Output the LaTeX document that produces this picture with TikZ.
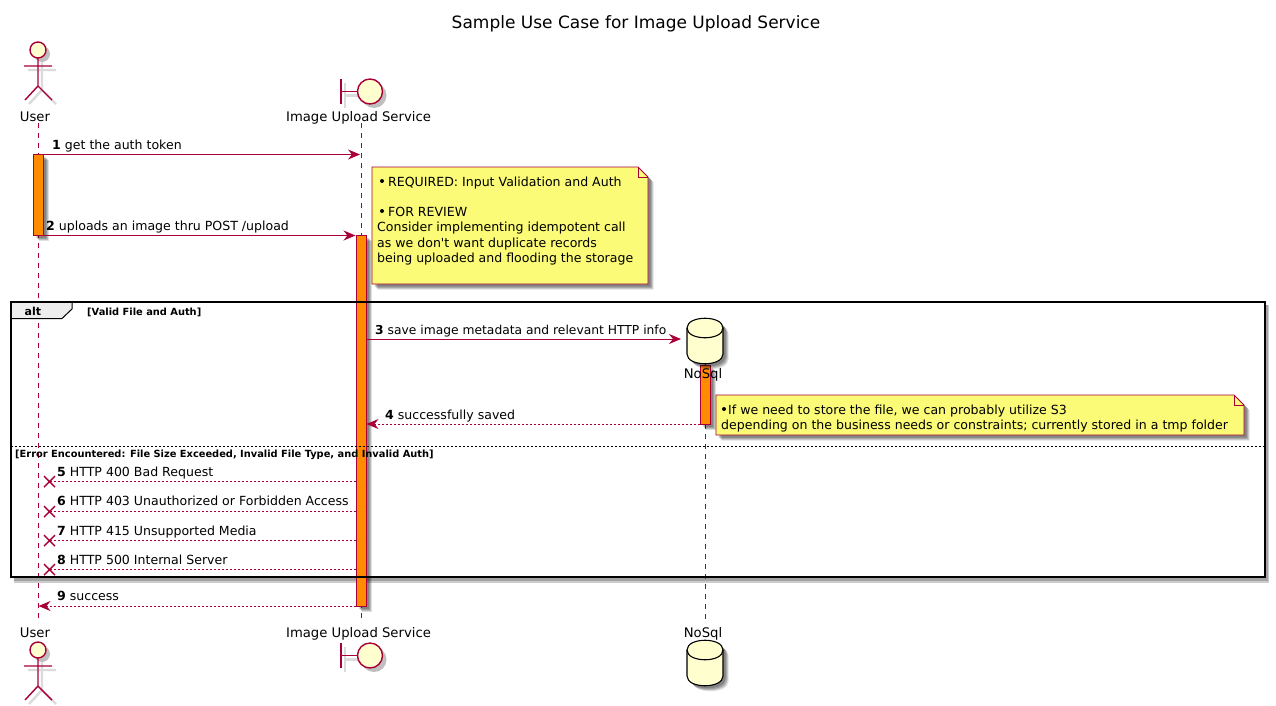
\documentclass[tikz,border=0pt]{standalone}
\usepackage{fontspec}
\setmainfont{DejaVu Sans}
\newfontfamily\plainf{DejaVu Sans}
\usetikzlibrary{arrows.meta}
\definecolor{pu}{HTML}{A80036}
\definecolor{pfill}{HTML}{FEFECE}
\definecolor{notey}{HTML}{FBFB77}
\definecolor{orng}{HTML}{FF8C00}
\newcommand{\msgfont}{\fontsize{12.55}{15}\selectfont}
\newcommand{\partfont}{\fontsize{13.2}{16}\selectfont}
\newcommand{\smallbold}{\fontsize{9.85}{12}\selectfont\bfseries}
\tikzset{
  x=1pt,y=-1pt,
  softshadow/.style={preaction={draw=none,fill=black,fill opacity=.16,transform canvas={shift={(2.5pt,-2.5pt)}}},
                     preaction={draw=none,fill=black,fill opacity=.16,transform canvas={shift={(3.5pt,-3.5pt)}}},
                     preaction={draw=none,fill=black,fill opacity=.16,transform canvas={shift={(4.5pt,-4.5pt)}}},
                     preaction={draw=none,fill=black,fill opacity=.12,transform canvas={shift={(5.5pt,-5.5pt)}}}},
  shline/.style={draw=black!35,line width=2.4pt,opacity=.4,transform canvas={shift={(4pt,-4pt)}}},
  msg/.style={draw=pu,line width=.9pt,-{Stealth[length=12pt,width=10pt,inset=4pt,fill=pu]}},
  reply/.style={msg,dash pattern=on 2pt off 2pt},
  lost/.style={draw=pu,line width=.9pt,dash pattern=on 2pt off 2pt},
  lifeline/.style={draw=pu,line width=.9pt,dash pattern=on 5pt off 5pt},
  activ/.style={draw=pu,line width=.9pt,fill=orng,softshadow},
  notebox/.style={draw=pu,line width=.9pt,fill=notey,softshadow},
  txt/.style={anchor=base west,inner sep=0pt,text=black,font=\msgfont},
  part/.style={anchor=base,inner sep=0pt,text=black,font=\partfont},
  crossm/.style={draw=pu,line width=1.4pt},
  frameline/.style={draw=black,line width=2pt},
  actor/.pic={
    \draw[shline] (0,8) -- (0,36) (-14,16) -- (14,16) (-13,50) -- (0,36) -- (14,50);
    \fill[black,opacity=.25,transform canvas={shift={(4pt,-4pt)}}] (0,0) circle[radius=8];
    \draw[pu,line width=1.4pt] (0,8) -- (0,36) (-14,16) -- (14,16) (-13,50) -- (0,36) -- (14,50);
    \draw[pu,line width=1.4pt,fill=pfill] (0,0) circle[radius=8];
  },
  boundaryfig/.pic={
    \draw[shline] (-29,0) -- (-12,0) (-29,-12.5) -- (-29,12.5);
    \fill[black,opacity=.25,transform canvas={shift={(4pt,-4pt)}}] (0,0) circle[radius=12.5];
    \draw[pu,line width=1.4pt] (-29,-12.5) -- (-29,12.5) (-29,0) -- (-12.5,0);
    \draw[pu,line width=1.4pt,fill=pfill] (0,0) circle[radius=12.5];
  },
  cylfig/.pic={
    \path[softshadow] (-18,10) .. controls (-18,-3) and (18,-3) .. (18,10) -- (18,36) .. controls (18,49) and (-18,49) .. (-18,36) -- cycle;
    \draw[black,line width=1.1pt,fill=pfill] (-18,10) .. controls (-18,-3) and (18,-3) .. (18,10) -- (18,36) .. controls (18,49) and (-18,49) .. (-18,36) -- cycle;
    \draw[black,line width=1.1pt] (-18,10) .. controls (-18,23) and (18,23) .. (18,10);
  }
}
\begin{document}
\begin{tikzpicture}
\useasboundingbox (0,0) rectangle (1276,705);
\fill[white] (0,0) rectangle (1276,705);

% frame shadow
\draw[black,opacity=.2,line width=5pt] (1266.5,305) -- (1266.5,580) -- (14,580);
\draw[black,opacity=.2,line width=3pt] (1266,305) -- (1266,579) -- (14,579);

% lifelines
\coordinate (uT) at (38,123); \coordinate (uB) at (38,623);
\coordinate (iT) at (361,123); \coordinate (iB) at (361,623);
\coordinate (nT) at (705,364); \coordinate (nB) at (705,623);
\draw[lifeline] (uT) -- (uB);
\draw[lifeline] (iT) -- (iB);
\draw[lifeline] (nT) -- (nB);

% activations
\path[activ] (33.5,154.5) rectangle (43.5,235.5);
\path[activ] (356,235.5) rectangle (366,606);
\path[activ] (700,365) rectangle (710,424);

% title
\node[anchor=base,inner sep=0pt,font=\fontsize{17}{20}\selectfont] (title) at (636,28) {Sample Use Case for Image Upload Service};

% participants
\pic at (38,50) {actor};
\pic at (370,91.5) {boundaryfig};
\pic at (38,650) {actor};
\pic at (370,655.5) {boundaryfig};
\pic at (705,318) {cylfig};
\pic at (705,640) {cylfig};
\node[part] (userTop) at (35,121) {User};
\node[part] (imgTop) at (358.5,121) {Image Upload Service};
\node[part] (userBot) at (35,637) {User};
\node[part] (imgBot) at (358.5,637) {Image Upload Service};
\node[part] (noTop) at (703,378) {NoSql};
\node[part] (noBot) at (703,637) {NoSql};

% notes
\path[notebox] (372,167) -- (638,167) -- (648,177) -- (648,284) -- (372,284) -- cycle;
\draw[pu,line width=.9pt] (638,167) -- (638,177) -- (648,177);
\path[notebox] (716,395) -- (1234,395) -- (1244,405) -- (1244,435) -- (716,435) -- cycle;
\draw[pu,line width=.9pt] (1234,395) -- (1234,405) -- (1244,405);
\fill[black] (382,181) circle[radius=2];
\fill[black] (382,211) circle[radius=2];
\fill[black] (724,409) circle[radius=2];
\node[txt] (n1a) at (388,186) {REQUIRED: Input Validation and Auth};
\node[txt] (n1b) at (388,216) {FOR REVIEW};
\node[txt] (n1c) at (377,231) {Consider implementing idempotent call};
\node[txt] (n1d) at (377,247) {as we don{\plainf\char39}t want duplicate records};
\node[txt] (n1e) at (377,262) {being uploaded and flooding the storage};
\node[txt] (n2a) at (728,414) {If we need to store the file, we can probably utilize S3};
\node[txt] (n2b) at (721,429) {depending on the business needs or constraints; currently stored in a tmp folder};

% messages
\coordinate (a1) at (38,154.5); \coordinate (b1) at (360,154.5);
\coordinate (a2) at (43.5,235.5); \coordinate (b2) at (355.5,235.5);
\coordinate (a3) at (366,339); \coordinate (b3) at (681,339);
\coordinate (a4) at (700,424); \coordinate (b4) at (366.5,424);
\coordinate (a9) at (356,606); \coordinate (b9) at (38.5,606);
\draw[msg] (a1) -- (b1);
\draw[msg] (a2) -- (b2);
\draw[msg] (a3) -- (b3);
\draw[reply] (a4) -- (b4);
\draw[reply] (a9) -- (b9);
\node[txt] (t1) at (52,149.5) {\textbf{1} get the auth token};
\node[txt] (t2) at (46,230.5) {\textbf{2} uploads an image thru POST /upload};
\node[txt,font=\fontsize{12.3}{15}\selectfont] (t3) at (375,334.5) {\textbf{3} save image metadata and relevant HTTP info};
\node[txt] (t4) at (385,419.5) {\textbf{4} successfully saved};
\node[txt] (t5) at (57,476.5) {\textbf{5} HTTP 400 Bad Request};
\node[txt] (t6) at (57,505.5) {\textbf{6} HTTP 403 Unauthorized or Forbidden Access};
\node[txt] (t7) at (57,535.5) {\textbf{7} HTTP 415 Unsupported Media};
\node[txt] (t8) at (57,564.5) {\textbf{8} HTTP 500 Internal Server};
\node[txt] (t9) at (57,600.5) {\textbf{9} success};

% lost messages
\foreach \n/\yy in {5/481.5,6/511.5,7/540.5,8/569.5}{
  \coordinate (s\n) at (356,\yy);
  \coordinate (e\n) at (49.5,\yy);
  \draw[lost] (s\n) -- (e\n);
  \draw[crossm] (44,\yy-5.5) -- (55,\yy+5.5) (44,\yy+5.5) -- (55,\yy-5.5);
}

% frame
\fill[black!7] (10.5,301.5) -- (72,301.5) -- (72,309) -- (62,318.5) -- (10.5,318.5) -- cycle;
\draw[frameline] (10.5,301.5) rectangle (1264.5,577);
\draw[black,line width=1pt] (10.5,318.5) -- (62,318.5) -- (72,309) -- (72,301.5);
\draw[black,line width=.9pt,dash pattern=on 2pt off 2pt] (10.5,446) -- (1264.5,446);
\node[txt,font=\fontsize{11}{13}\selectfont\bfseries] (altl) at (24.5,315) {alt};
\node[txt,font=\smallbold] (g1) at (87,315) {[Valid File and Auth]};
\node[txt,font=\smallbold] (g2) at (15,457) {[Error Encountered: File Size Exceeded, Invalid File Type, and Invalid Auth]};
\end{tikzpicture}
\end{document}
